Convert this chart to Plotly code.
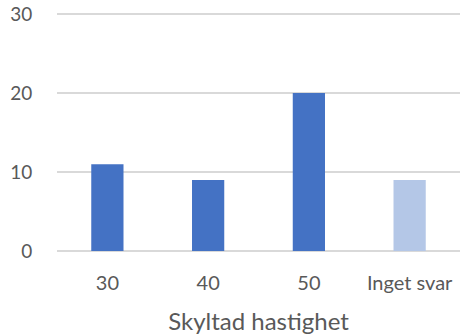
import plotly.graph_objects as go

# Survey answers: posted speed limit
categories = ["30", "40", "50", "Inget svar"]
counts = [11, 9, 20, 9]
bar_colors = ["#4472C4", "#4472C4", "#4472C4", "#B4C7E7"]

y_ticks = [0, 10, 20, 30]
x_title = "Skyltad hastighet"

font_family = "Lato, 'Noto Sans', sans-serif"
text_color = "#595959"
grid_color = "#D9D9D9"

fig = go.Figure(
    go.Bar(
        x=categories,
        y=counts,
        marker=dict(color=bar_colors, line=dict(width=0)),
        hoverinfo="skip",
    )
)

fig.update_layout(
    width=460,
    height=335,
    margin=dict(l=57, r=0, t=13, b=84),
    paper_bgcolor="white",
    plot_bgcolor="white",
    bargap=0.68,
    showlegend=False,
    font=dict(family=font_family, color=text_color),
)

fig.update_xaxes(
    type="category",
    showgrid=False,
    showline=False,
    zeroline=False,
    ticks="outside",
    ticklen=14,
    tickcolor="rgba(0,0,0,0)",
    tickfont=dict(size=20, color=text_color),
    title=dict(text=x_title, font=dict(size=24, color=text_color), standoff=20),
)

fig.update_yaxes(
    range=[0, 30.15],
    tickvals=y_ticks,
    showgrid=True,
    gridcolor=grid_color,
    gridwidth=1.5,
    zeroline=True,
    zerolinecolor=grid_color,
    zerolinewidth=1.5,
    showline=False,
    ticks="outside",
    ticklen=20,
    tickcolor="rgba(0,0,0,0)",
    tickfont=dict(size=19, color=text_color),
)

fig.write_html("out.html")
